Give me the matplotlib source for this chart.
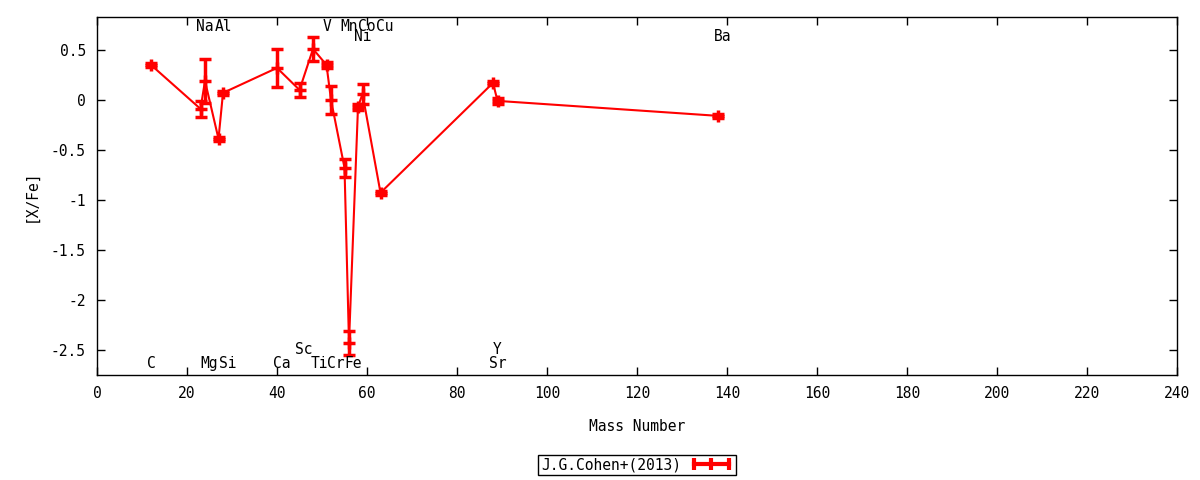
import matplotlib
matplotlib.use("Agg")
import matplotlib.pyplot as plt
from matplotlib.lines import Line2D

# abundance pattern
mass = [12, 23, 24, 27, 28, 40, 45, 48, 51, 52, 55, 56, 58, 59, 63, 88, 89, 138]
xfe = [0.35, -0.09, 0.19, -0.39, 0.07, 0.32, 0.10, 0.51, 0.35, 0.00,
       -0.68, -2.43, -0.07, 0.06, -0.93, 0.17, -0.01, -0.16]
err = [0.02, 0.08, 0.22, 0.02, 0.02, 0.19, 0.07, 0.12, 0.03, 0.14,
       0.09, 0.12, 0.03, 0.10, 0.02, 0.02, 0.03, 0.02]

# element labels and where they sit
elem = ["C", "Na", "Mg", "Al", "Si", "Ca", "Sc", "Ti", "V", "Cr",
        "Mn", "Fe", "Co", "Ni", "Cu", "Sr", "Y", "Ba"]
elem_x = [12, 24, 25, 28, 29, 41, 46, 49.5, 51, 53, 56, 57, 60, 59, 64, 89, 89, 139]
elem_y = [-2.635, 0.73, -2.635, 0.73, -2.635, -2.635, -2.495, -2.635, 0.73, -2.635,
          0.73, -2.635, 0.73, 0.63, 0.73, -2.635, -2.495, 0.63]

xticks = list(range(0, 241, 20))
yticks = [0.5, 0, -0.5, -1, -1.5, -2, -2.5]
ytick_labels = ["0.5", "0", "-0.5", "-1", "-1.5", "-2", "-2.5"]

plt.rcParams["font.family"] = "DejaVu Sans Mono"
plt.rcParams["font.size"] = 10.5
plt.rcParams["axes.unicode_minus"] = False

fig = plt.figure(figsize=(12, 4.8), dpi=100)
ax = fig.add_axes([97 / 1200, 1 - 375 / 480, 1080 / 1200, 358 / 480])

ax.errorbar(mass, xfe, yerr=err, color="red", lw=1.5, marker="+", ms=9, mew=2.5,
            capsize=4, capthick=2.5, elinewidth=2.5)

for name, x, y in zip(elem, elem_x, elem_y):
    ax.text(x, y, name, ha="center", va="center")

ax.set_xlim(0, 240)
ax.set_ylim(-2.755, 0.83)
ax.set_xticks(xticks)
ax.set_yticks(yticks)
ax.set_yticklabels(ytick_labels)
ax.tick_params(direction="in", top=True, right=True, length=6, width=1, pad=8)
for s in ax.spines.values():
    s.set_linewidth(1)

ax.set_xlabel("Mass Number", labelpad=13)
ax.set_ylabel("[X/Fe]", labelpad=9)

# gnuplot style key: horizontal bar with caps at the ends
key = Line2D([], [], color="red", lw=3, marker="|", ms=9, mew=3)
fig.legend([key], ["J.G.Cohen+(2013)"], loc="center",
           bbox_to_anchor=(637 / 1200, 1 - 465 / 480), markerfirst=False,
           numpoints=3, frameon=True, fancybox=False, edgecolor="black",
           framealpha=1, handlelength=3.0, borderpad=0.2, borderaxespad=0,
           handletextpad=0.6)
fig.legends[0].get_frame().set_linewidth(1)

fig.savefig("out.png", dpi=100)
